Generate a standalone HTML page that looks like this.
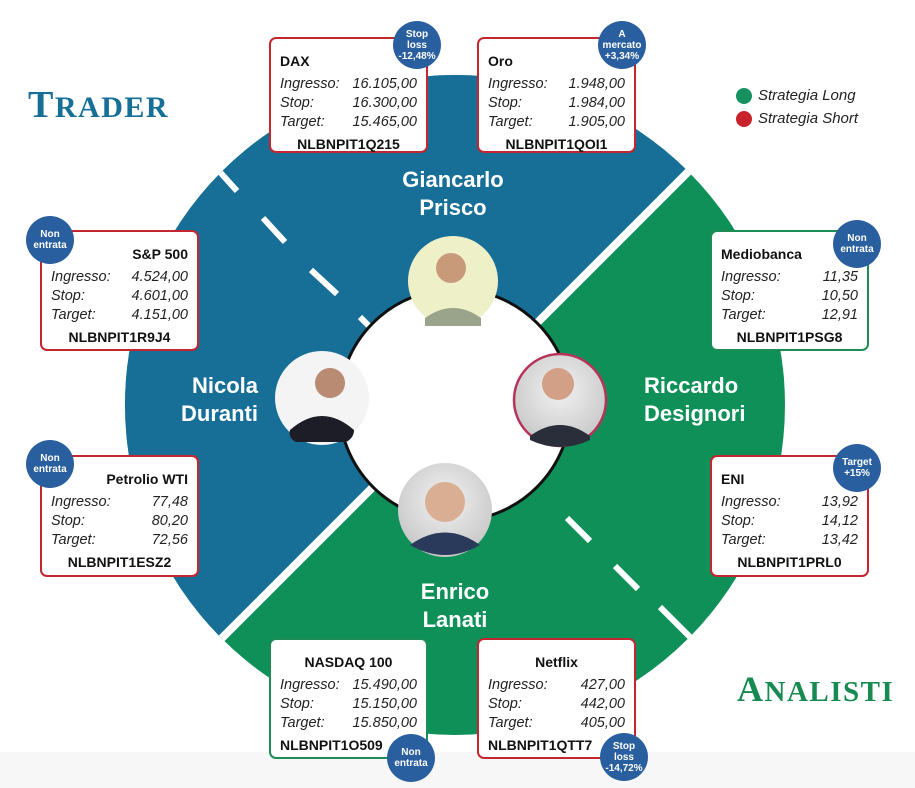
<!DOCTYPE html>
<html><head><meta charset="utf-8"><style>
html,body{margin:0;width:915px;height:788px;overflow:hidden}
body{background:#fff;position:relative;font-family:"Liberation Sans",sans-serif}
.bot{position:absolute;left:0;top:752px;width:915px;height:36px;background:#f7f7f8}
.card{position:absolute;width:159px;height:116px;background:#fff;border:2px solid #c3262e;border-radius:7px;box-sizing:border-box;color:#111}
.card.g{border-color:#1d8d55}
.t{position:absolute;top:14px;font-weight:bold;font-size:14px}
.r{position:absolute;left:9px;right:9px;font-style:italic;font-size:14.5px;color:#222;display:flex;justify-content:space-between}
.c{position:absolute;left:0;right:0;top:97px;text-align:center;font-weight:bold;font-size:14px}
.b{position:absolute;width:48px;height:48px;border-radius:50%;background:#2a5f9f;color:#fff;font-weight:bold;font-size:10px;line-height:11px;display:flex;align-items:center;justify-content:center;text-align:center}
.n{position:absolute;color:#fff;font-weight:bold;font-size:22px;line-height:28px}
</style></head><body>
<div class="bot"></div>
<svg width="915" height="788" style="position:absolute;left:0;top:0">
<defs><clipPath id="cc"><circle cx="455" cy="405" r="330"/></clipPath>
<radialGradient id="pg" cx="50%" cy="40%" r="60%"><stop offset="0" stop-color="#f2f2f2"/><stop offset="1" stop-color="#c8c8c8"/></radialGradient></defs>
<g clip-path="url(#cc)">
<rect x="100" y="60" width="720" height="700" fill="#0e9058"/>
<polygon points="0,0 860,0 0,860" fill="#176f98"/>
<line x1="930" y1="-70" x2="-70" y2="930" stroke="#fff" stroke-width="8"/>
<g stroke="#fff" stroke-width="6">
<line x1="219" y1="171" x2="237" y2="191"/><line x1="263" y1="218" x2="285" y2="242"/><line x1="311" y1="270" x2="337" y2="294"/><line x1="360" y1="317" x2="372" y2="329"/>
<line x1="567" y1="518" x2="590" y2="541"/><line x1="615" y1="566" x2="638" y2="589"/><line x1="660" y1="607" x2="690" y2="637"/>
</g></g>
<circle cx="455" cy="405" r="116" fill="#fff" stroke="#111" stroke-width="3"/>
<g>
<circle cx="453" cy="281" r="45" fill="#eef0c8"/>
<path d="M425 318 q28-20 56 0 v8 h-56z" fill="#9aa48a"/><circle cx="451" cy="268" r="15" fill="#c99a7a"/>
<circle cx="322" cy="398" r="47" fill="#f4f4f4"/>
<path d="M290 430 q32-28 64 0 q0 8-8 12 h-50 q-8-4-6-12z" fill="#1d1d28"/><circle cx="330" cy="383" r="15" fill="#b88b72"/>
<circle cx="560" cy="400" r="46" fill="url(#pg)" stroke="#b8335a" stroke-width="2.5"/>
<path d="M530 436 q30-22 60 0 v4 q-30 14-60 0z" fill="#2a2e3a"/><circle cx="558" cy="384" r="16" fill="#d2a086"/>
<circle cx="445" cy="510" r="47" fill="url(#pg)"/>
<path d="M410 545 q35-25 70 0 q-35 20-70 0z" fill="#2a3a5a"/><circle cx="445" cy="502" r="20" fill="#d9ae93"/>
</g>
</svg>
<div style="position:absolute;left:28px;top:83px;font-family:'Liberation Serif',serif;font-weight:bold;font-size:38px;color:#176f98;letter-spacing:1.5px">T<span style="font-size:30px">RADER</span></div>
<div style="position:absolute;left:737px;top:668px;font-family:'Liberation Serif',serif;font-weight:bold;font-size:36px;color:#168a50;letter-spacing:1.5px">A<span style="font-size:29px">NALISTI</span></div>
<div style="position:absolute;left:736px;top:88px;width:16px;height:16px;border-radius:50%;background:#179160"></div>
<div style="position:absolute;left:736px;top:111px;width:16px;height:16px;border-radius:50%;background:#c8232c"></div>
<div style="position:absolute;left:758px;top:87px;font-style:italic;font-size:15px;color:#222">Strategia Long</div>
<div style="position:absolute;left:758px;top:110px;font-style:italic;font-size:15px;color:#222">Strategia Short</div>
<div class="n" style="left:353px;top:166px;width:200px;text-align:center">Giancarlo<br>Prisco</div>
<div class="n" style="left:108px;top:372px;width:150px;text-align:right">Nicola<br>Duranti</div>
<div class="n" style="left:644px;top:372px">Riccardo<br>Designori</div>
<div class="n" style="left:355px;top:578px;width:200px;text-align:center">Enrico<br>Lanati</div>

<div class="card" style="left:269px;top:37px"><div class="t" style="left:9px">DAX</div><div class="r" style="top:37px"><span>Ingresso:</span><span>16.105,00</span></div><div class="r" style="top:56px"><span>Stop:</span><span>16.300,00</span></div><div class="r" style="top:75px"><span>Target:</span><span>15.465,00</span></div><div class="c">NLBNPIT1Q215</div></div>
<div class="b" style="left:393px;top:21px">Stop<br>loss<br>-12,48%</div>
<div class="card" style="left:477px;top:37px"><div class="t" style="left:9px">Oro</div><div class="r" style="top:37px"><span>Ingresso:</span><span>1.948,00</span></div><div class="r" style="top:56px"><span>Stop:</span><span>1.984,00</span></div><div class="r" style="top:75px"><span>Target:</span><span>1.905,00</span></div><div class="c">NLBNPIT1QOI1</div></div>
<div class="b" style="left:598px;top:21px">A<br>mercato<br>+3,34%</div>
<div class="card" style="left:40px;top:230px;height:121px"><div class="t" style="right:9px">S&amp;P 500</div><div class="r" style="top:37px"><span>Ingresso:</span><span>4.524,00</span></div><div class="r" style="top:56px"><span>Stop:</span><span>4.601,00</span></div><div class="r" style="top:75px"><span>Target:</span><span>4.151,00</span></div><div class="c">NLBNPIT1R9J4</div></div>
<div class="b" style="left:26px;top:216px">Non<br>entrata</div>
<div class="card" style="left:40px;top:455px;height:122px"><div class="t" style="right:9px">Petrolio WTI</div><div class="r" style="top:37px"><span>Ingresso:</span><span>77,48</span></div><div class="r" style="top:56px"><span>Stop:</span><span>80,20</span></div><div class="r" style="top:75px"><span>Target:</span><span>72,56</span></div><div class="c">NLBNPIT1ESZ2</div></div>
<div class="b" style="left:26px;top:440px">Non<br>entrata</div>
<div class="card g" style="left:710px;top:230px;height:121px"><div class="t" style="left:9px">Mediobanca</div><div class="r" style="top:37px"><span>Ingresso:</span><span>11,35</span></div><div class="r" style="top:56px"><span>Stop:</span><span>10,50</span></div><div class="r" style="top:75px"><span>Target:</span><span>12,91</span></div><div class="c">NLBNPIT1PSG8</div></div>
<div class="b" style="left:833px;top:220px">Non<br>entrata</div>
<div class="card" style="left:710px;top:455px;height:122px"><div class="t" style="left:9px">ENI</div><div class="r" style="top:37px"><span>Ingresso:</span><span>13,92</span></div><div class="r" style="top:56px"><span>Stop:</span><span>14,12</span></div><div class="r" style="top:75px"><span>Target:</span><span>13,42</span></div><div class="c">NLBNPIT1PRL0</div></div>
<div class="b" style="left:833px;top:444px">Target<br>+15%</div>
<div class="card g" style="left:269px;top:638px;height:121px"><div class="t" style="left:0;right:0;text-align:center">NASDAQ 100</div><div class="r" style="top:37px"><span>Ingresso:</span><span>15.490,00</span></div><div class="r" style="top:56px"><span>Stop:</span><span>15.150,00</span></div><div class="r" style="top:75px"><span>Target:</span><span>15.850,00</span></div><div class="c" style="text-align:left;left:9px">NLBNPIT1O509</div></div>
<div class="b" style="left:387px;top:734px">Non<br>entrata</div>
<div class="card" style="left:477px;top:638px;height:121px"><div class="t" style="left:0;right:0;text-align:center">Netflix</div><div class="r" style="top:37px"><span>Ingresso:</span><span>427,00</span></div><div class="r" style="top:56px"><span>Stop:</span><span>442,00</span></div><div class="r" style="top:75px"><span>Target:</span><span>405,00</span></div><div class="c" style="text-align:left;left:9px">NLBNPIT1QTT7</div></div>
<div class="b" style="left:600px;top:733px">Stop<br>loss<br>-14,72%</div>
</body></html>
